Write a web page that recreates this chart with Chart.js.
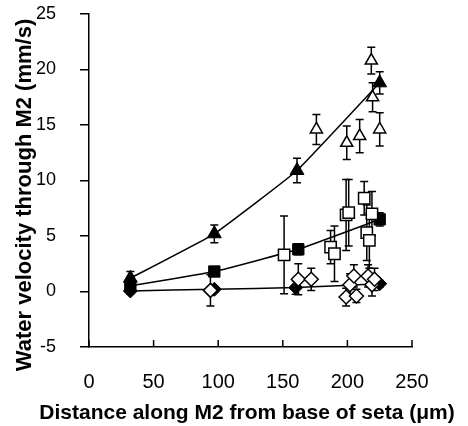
<!DOCTYPE html>
<html>
<head>
<meta charset="utf-8">
<script src="https://cdn.jsdelivr.net/npm/chart.js@4"></script>
<style>
  html, body { margin: 0; padding: 0; background: #fff; }
  #wrap { width: 468px; height: 426px; }
</style>
</head>
<body>
<div id="wrap"><canvas id="velChart" width="468" height="426"></canvas></div>
<script>
// data (x in µm, y in mm/s)
const triX = [32, 97, 161, 225];
const triY = [1.2, 5.2, 10.9, 18.8];
const triErr = [0.6, 0.8, 1.1, 1.0];

const sqX = [32, 97, 162, 225];
const sqY = [0.5, 1.8, 3.8, 6.5];
const sqErr = [0.4, 0.4, 0.5, 0.6];

const dmX = [32, 97, 160, 225];
const dmY = [0.05, 0.2, 0.35, 0.7];
const dmErr = [0.3, 0.3, 0.6, 0.3];

const openTriX = [176, 199.5, 209.5, 218.5, 219.5, 225];
const openTriY = [14.6, 13.4, 14.0, 20.8, 17.5, 14.6];
const openTriErr = [1.35, 1.5, 1.5, 1.2, 1.3, 1.5];

const openSqX = [151, 187, 190, 199, 201, 213, 215, 217, 219];
const openSqY = [3.3, 4.0, 3.4, 6.9, 7.1, 8.4, 5.3, 4.6, 7.0];
const openSqErr = [3.5, 1.5, 2.5, 3.2, 3.0, 1.5, 2.5, 2.5, 2.0];

const openDmX = [94, 162, 172, 199, 202, 205, 207, 216, 219, 221];
const openDmY = [0.1, 1.1, 1.1, -0.5, 0.6, 1.4, -0.4, 1.4, 0.6, 1.1];
const openDmErr = [1.4, 1.4, 1.0, 0.8, 1.0, 1.0, 0.6, 1.0, 1.0, 1.0];

const xTicks = [0, 50, 100, 150, 200, 250];
const yTicks = [-5, 0, 5, 10, 15, 20, 25];

const xTitle = "Distance along M2 from base of seta (μm)";
const yTitle = "Water velocity through M2 (mm/s)";

const pts = (xs, ys) => xs.map((x, i) => ({ x: x, y: ys[i] }));

// error bars, drawn under the markers
const errorBars = {
  id: "errorBars",
  beforeDatasetsDraw(chart) {
    const { ctx, scales: { x, y } } = chart;
    ctx.save();
    ctx.strokeStyle = "#000";
    ctx.lineWidth = 1.5;
    chart.data.datasets.forEach(ds => {
      ds.data.forEach((p, i) => {
        const e = ds.errors[i];
        const px = x.getPixelForValue(p.x);
        const top = y.getPixelForValue(p.y + e);
        const bot = y.getPixelForValue(p.y - e);
        ctx.beginPath();
        ctx.moveTo(px, top); ctx.lineTo(px, bot);
        ctx.moveTo(px - 4, top); ctx.lineTo(px + 4, top);
        ctx.moveTo(px - 4, bot); ctx.lineTo(px + 4, bot);
        ctx.stroke();
      });
    });
    ctx.restore();
  }
};

// x ticks point up into the plot, plus the axis titles
// (chart.js squeezes titles to the axis length, so they are drawn here)
const axisExtras = {
  id: "axisExtras",
  afterDraw(chart) {
    const { ctx, scales: { x }, chartArea } = chart;
    ctx.save();
    ctx.strokeStyle = "#000";
    ctx.lineWidth = 1.5;
    xTicks.forEach(v => {
      const px = x.getPixelForValue(v);
      ctx.beginPath();
      ctx.moveTo(px, chartArea.bottom);
      ctx.lineTo(px, chartArea.bottom - 7);
      ctx.stroke();
    });
    ctx.fillStyle = "#000";
    ctx.font = "bold 21px 'Liberation Sans'";
    ctx.textAlign = "center";
    ctx.textBaseline = "alphabetic";
    ctx.fillText(xTitle, 247, 419);
    ctx.translate(31, 195);
    ctx.rotate(-Math.PI / 2);
    ctx.font = "bold 22px 'Liberation Sans'";
    ctx.fillText(yTitle, 0, 0);
    ctx.restore();
  }
};

const filled = (data, errs, style, r) => ({
  type: "line", data: data, errors: errs,
  borderColor: "#000", borderWidth: 1.5, tension: 0.1,
  pointStyle: style, pointRadius: r, pointBackgroundColor: "#000",
  pointBorderColor: "#000", pointBorderWidth: 1
});
const open = (data, errs, style, r) => ({
  type: "scatter", data: data, errors: errs, showLine: false,
  pointStyle: style, pointRadius: r, pointBackgroundColor: "#fff",
  pointBorderColor: "#000", pointBorderWidth: 1.5
});

const ctx = document.getElementById("velChart");
new Chart(ctx, {
  type: "scatter",
  data: {
    datasets: [
      open(pts(openTriX, openTriY), openTriErr, "triangle", 7),
      open(pts(openSqX, openSqY), openSqErr, "rect", 8),
      open(pts(openDmX, openDmY), openDmErr, "rectRot", 7),
      filled(pts(dmX, dmY), dmErr, "rectRot", 7),
      filled(pts(sqX, sqY), sqErr, "rect", 8),
      filled(pts(triX, triY), triErr, "triangle", 8)
    ]
  },
  options: {
    responsive: false,
    animation: false,
    layout: { padding: { top: 14, right: 56, bottom: 0, left: 0 } },
    plugins: { legend: { display: false }, tooltip: { enabled: false } },
    scales: {
      x: {
        type: "linear", min: 0, max: 250,
        afterBuildTicks: s => { s.ticks = xTicks.map(v => ({ value: v })); },
        grid: { display: false, drawTicks: false },
        border: { color: "#000", width: 1.5 },
        ticks: { color: "#000", padding: 23, maxRotation: 0, font: { family: "Liberation Sans", size: 20 } },
        afterFit: s => { s.height = 79; }
      },
      y: {
        type: "linear", min: -5, max: 25,
        afterBuildTicks: s => { s.ticks = yTicks.map(v => ({ value: v })); },
        grid: { drawOnChartArea: false, drawTicks: true, tickLength: 9, color: "#000", lineWidth: 1.5 },
        border: { color: "#000", width: 1.5 },
        ticks: { color: "#000", padding: 24, font: { family: "Liberation Sans", size: 18 } },
        afterFit: s => { s.width = 89; s.paddingTop = 8; s.paddingBottom = 8; }
      }
    }
  },
  plugins: [errorBars, axisExtras]
});
</script>
</body>
</html>
